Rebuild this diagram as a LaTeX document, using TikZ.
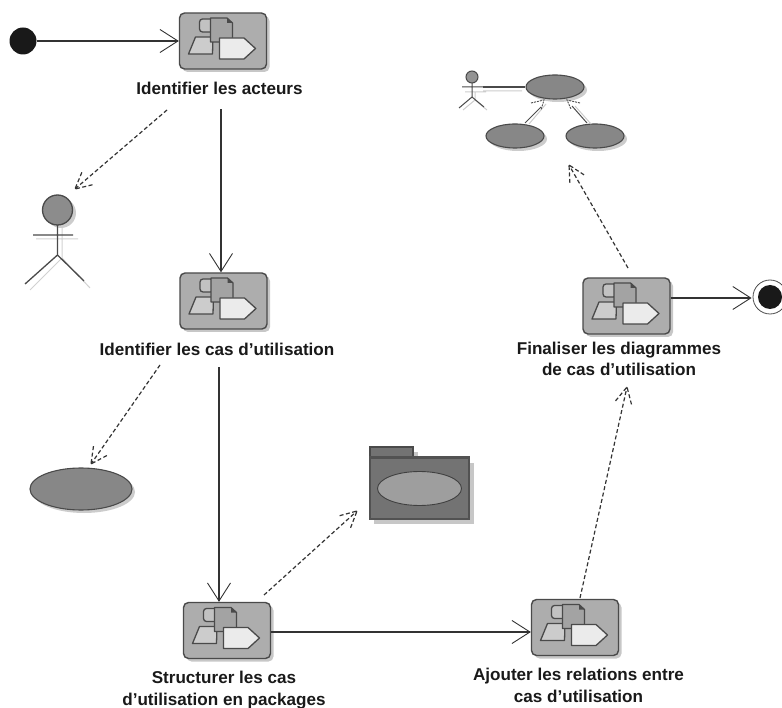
\documentclass[tikz,border=0pt]{standalone}
\usepackage{fontspec}
\setmainfont{Liberation Sans}
\usetikzlibrary{arrows.meta,calc,shadows,shapes.geometric}
\definecolor{edgeC}{HTML}{4A4A4A}
\definecolor{lineC}{HTML}{333333}
\tikzset{
  x=1pt,y=-1pt,
  actbox/.style={draw=edgeC,line width=1.4pt,fill=black!32,rounded corners=5pt,minimum width=87pt,minimum height=56pt,inner sep=0pt,
     drop shadow={shadow xshift=3pt,shadow yshift=-3pt,fill=black!22,opacity=1}},
  lab/.style={font=\fontsize{17.1}{21.3}\selectfont\bfseries,align=center,text=black!90,inner sep=0pt},
  flow/.style={draw=lineC,line width=1.1pt,-{Straight Barb[length=18pt,width=23pt,line width=0.9pt]}},
  dep/.style={draw=lineC,line width=1.2pt,dash pattern=on 4pt off 2.5pt},
  uc/.style={ellipse,draw=edgeC,line width=1.1pt,fill=black!47,inner sep=0pt,
     drop shadow={shadow xshift=3pt,shadow yshift=-3pt,fill=black!20,opacity=1}},
  stick/.style={draw=edgeC,line width=1.3pt},
  stickshade/.style={draw=black!18,line width=1pt},
  iconline/.style={draw=edgeC,line width=1.3pt,line join=round},
  pics/acticon/.style={code={
    \path[iconline,fill=black!20] (-34.5,13) -- (-27.5,-4) -- (-10,-4) -- (-10.5,13) -- cycle;
    \path[iconline,fill=black!24,rounded corners=3pt] (-23.5,-22) rectangle (-10,-9);
    \path[iconline,fill=black!36] (-12.5,-23) -- (4,-23) -- (9.5,-18) -- (9.5,1) -- (-12.5,1) -- cycle;
    \fill[edgeC] (4,-23) -- (9.5,-18) -- (4,-18) -- cycle;
    \path[iconline,fill=black!8] (-3.5,-3) -- (21,-3) -- (32.5,7.5) -- (21,18) -- (-3.5,18) -- cycle;
  }}
}
\newcommand{\depline}[2]{%
  \draw[dep] (#1) -- (#2);
  \draw[dep] ($(#2)!18pt!27:(#1)$) -- (#2);
  \draw[dep] ($(#2)!18pt!-27:(#1)$) -- (#2);
}
\begin{document}
\begin{tikzpicture}
\useasboundingbox (0,0) rectangle (782,708);

% start and end
\node[circle,fill=black!90,minimum size=27pt,inner sep=0pt] (start) at (23,41) {};
\node[circle,draw=black!70,line width=0.8pt,fill=white,minimum size=34pt,inner sep=0pt] (endo) at (770,297) {};
\node[circle,fill=black!90,minimum size=24pt,inner sep=0pt] (endi) at (770,297) {};

% activity boxes
\node[actbox] (b1) at (223,41) {};
\pic at (b1.center) {acticon};
\node[actbox] (b2) at (223.5,301) {};
\pic at (b2.center) {acticon};
\node[actbox] (b3) at (227,630.5) {};
\pic at (b3.center) {acticon};
\node[actbox] (b4) at (575,627.5) {};
\pic at (b4.center) {acticon};
\node[actbox] (b5) at (626.5,306) {};
\pic at (b5.center) {acticon};

% labels
\node[lab] (l1) at (219.5,88) {Identifier les acteurs};
\node[lab] (l2) at (217,349) {Identifier les cas d’utilisation};
\node[lab] (l3) at (224,690) {Structurer les cas\\d’utilisation en packages};
\node[lab] (l4) at (578.5,685.5) {Ajouter les relations entre\\cas d’utilisation};
\node[lab] (l5) at (619,359) {Finaliser les diagrammes\\de cas d’utilisation};

% big actor
\coordinate (ahead) at (57.5,210);
\draw[stickshade] (62,225) -- (62,258) (36,239) -- (78,239) (62,258) -- (30,290) (62,258) -- (90,288);
\fill[black!20] (61,213) circle (15);
\draw[stick,fill=black!45] (ahead) circle (15);
\draw[stick] (57.5,225) -- (57.5,255) (33,235) -- (73,235) (57.5,255) -- (25,284) (57.5,255) -- (84,281);

% big use case
\node[uc,minimum width=102pt,minimum height=42pt] (ucbig) at (81,489) {};

% package
\fill[black!22] (375,452) rectangle (418,463);
\fill[black!22] (374,463) rectangle (474,524);
\draw[edgeC,line width=1.2pt,fill=black!55] (370,447) rectangle (413,458);
\node[draw=black!68,line width=1.2pt,fill=black!55,minimum width=99pt,minimum height=61pt,inner sep=0pt] (pkg) at (419.5,488.5) {};
\draw[black!68,line width=2pt] (pkg.north west) -- (pkg.north east);
\node[ellipse,draw=black!75,line width=0.9pt,fill=black!38,minimum width=84pt,minimum height=34pt,inner sep=0pt] (pkguc) at (pkg.center) {};

% small use case diagram
\node[uc,minimum width=58pt,minimum height=24pt] (uca) at (555,87) {};
\node[uc,minimum width=58pt,minimum height=24pt] (ucb) at (515,136) {};
\node[uc,minimum width=58pt,minimum height=24pt] (ucc) at (595,136) {};
\coordinate (sarmr) at (483,87);
\draw[black!20,line width=1pt] (465,92) -- (486,92) (475,92) -- (475,100) -- (463,110) (475,100) -- (487,110) (483,91) -- (522,91) (529,124) -- (546,104) (591,124) -- (575,106);
\draw[edgeC,line width=1pt,fill=black!42] (472,77) circle (6);
\draw[edgeC,line width=1pt] (472,83) -- (472,97) (462,87) -- (sarmr) (472,97) -- (459,108) (472,97) -- (484,107);
\draw[edgeC,line width=1.2pt] (sarmr) -- (uca.west);
\draw[black!70,line width=1pt] (525,123) -- (541,107);
\draw[black!70,line width=1pt] (587,123) -- (572,106);
\draw[black!70,line width=0.9pt,dash pattern=on 2pt off 1pt] (531,103) -- (544,100) -- (541,110) (580,103) -- (567,100) -- (571,109);

% solid flows
\draw[flow,shorten <=15pt] (l1.south -| 221,97) -- (b2.north -| 221,0);
\draw[flow,shorten <=12pt] (l2.south -| 219,358) -- (b3.north -| 219,0);
\draw[flow] (start.east) -- (b1.west);
\draw[flow] (b3.east |- 0,632) -- (b4.west |- 0,632);
\draw[flow,shorten >=1pt] (b5.east |- 0,298) -- (endo.west |- 0,298);

% dependencies
\coordinate (d1s) at (167,110); \coordinate (d1e) at (75,189);
\coordinate (d2s) at (160,365); \coordinate (d2e) at (91,464);
\coordinate (d3s) at (264,595); \coordinate (d3e) at (357,511);
\coordinate (d4s) at (580,598); \coordinate (d4e) at (627,387);
\coordinate (d5s) at (628,268); \coordinate (d5e) at (569,165);
\depline{d1s}{d1e}
\depline{d2s}{d2e}
\depline{d3s}{d3e}
\depline{d4s}{d4e}
\depline{d5s}{d5e}
\end{tikzpicture}
\end{document}
